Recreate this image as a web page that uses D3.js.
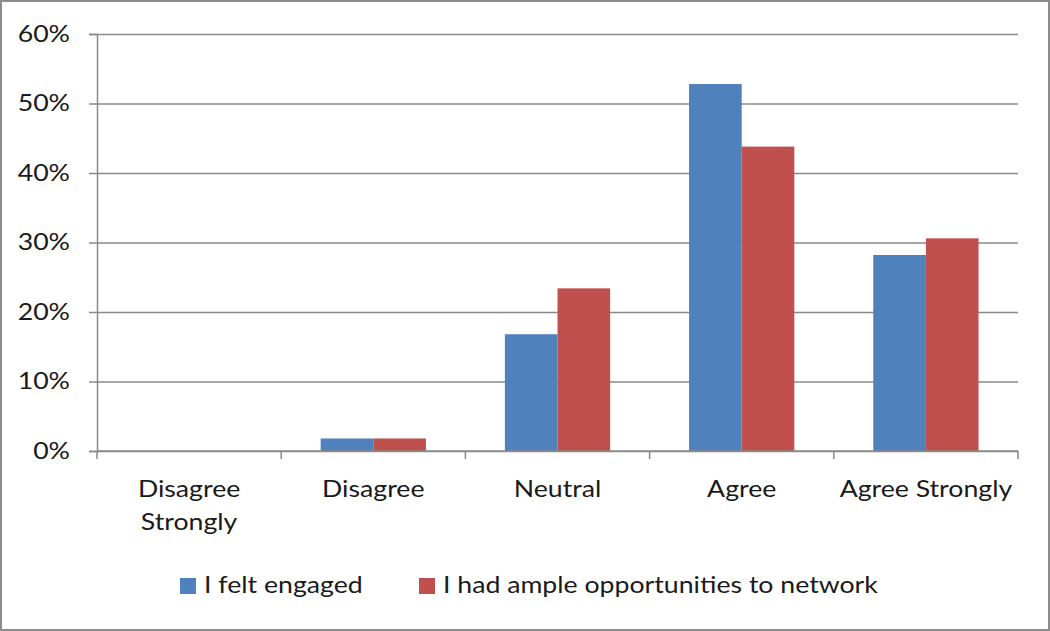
<!DOCTYPE html>
<html>
<head>
<meta charset="utf-8">
<script src="https://cdn.jsdelivr.net/npm/d3@7"></script>
<style>
  body { margin: 0; background: #fff; }
  text { font-family: Lato, "Open Sans", sans-serif; fill: #1a1a1a; }
</style>
</head>
<body>
<div id="chart"></div>
<script>
const width = 1050;
const height = 631;

// data
const categories = ["Disagree Strongly", "Disagree", "Neutral", "Agree", "Agree Strongly"];
const categoryLines = [["Disagree", "Strongly"], ["Disagree"], ["Neutral"], ["Agree"], ["Agree Strongly"]];
const seriesNames = ["I felt engaged", "I had ample opportunities to network"];
const engaged = [0, 0.018, 0.168, 0.528, 0.282];
const network = [0, 0.018, 0.234, 0.438, 0.306];
const yTicks = [0, 0.1, 0.2, 0.3, 0.4, 0.5, 0.6];
const colors = ["#4F81BD", "#C0504D"];

const plot = { left: 97, right: 1018, top: 34, bottom: 451 };
const stretch = 1.16; // the original text is a bit wider than Lato

const svg = d3.select("#chart")
    .append("svg")
    .attr("width", width)
    .attr("height", height);

// outer frame
svg.append("rect")
    .attr("x", 1).attr("y", 1)
    .attr("width", width - 2).attr("height", height - 2)
    .attr("fill", "#fff")
    .attr("stroke", "#8c8c8c")
    .attr("stroke-width", 2);

const x = d3.scaleBand()
    .domain(categories)
    .range([plot.left, plot.right]);

const gap = x.bandwidth() * 1.5 / 3.5;
const xs = d3.scaleBand()
    .domain(seriesNames)
    .range([gap / 2, x.bandwidth() - gap / 2]);

const y = d3.scaleLinear()
    .domain([0, 0.6])
    .range([plot.bottom, plot.top]);

// gridlines
svg.append("g")
    .attr("transform", `translate(${plot.left},0)`)
    .call(d3.axisLeft(y).tickValues(yTicks).tickSize(-(plot.right - plot.left)).tickFormat(""))
    .call(g => g.select(".domain").remove())
    .call(g => g.selectAll("line").attr("stroke", "#8a8a8a").attr("stroke-width", 1.3));

// bars
const rows = categories.map((c, i) => ({ cat: c, values: [engaged[i], network[i]] }));

svg.append("g")
    .selectAll("g")
    .data(rows)
    .join("g")
    .attr("transform", d => `translate(${x(d.cat)},0)`)
    .selectAll("rect")
    .data(d => d.values.map((v, j) => ({ key: seriesNames[j], v, j })))
    .join("rect")
    .attr("x", d => xs(d.key))
    .attr("width", xs.bandwidth())
    .attr("y", d => y(d.v))
    .attr("height", d => y(0) - y(d.v))
    .attr("fill", d => colors[d.j]);

// y axis
svg.append("g")
    .attr("transform", `translate(${plot.left},0)`)
    .call(d3.axisLeft(y).tickValues(yTicks).tickSize(8).tickPadding(15.3).tickFormat(d3.format(".0%")))
    .call(g => g.selectAll("line, .domain").attr("stroke", "#8a8a8a").attr("stroke-width", 1.5))
    .call(g => g.selectAll("text")
        .attr("font-size", 23)
        .attr("font-family", "Lato, sans-serif")
        .attr("fill", "#1a1a1a")
        .attr("transform", `scale(${stretch},1)`));

// x axis baseline with boundary ticks
const xAxis = svg.append("g");
xAxis.append("line")
    .attr("x1", plot.left).attr("x2", plot.right)
    .attr("y1", y(0)).attr("y2", y(0))
    .attr("stroke", "#8a8a8a").attr("stroke-width", 1.5);

const bounds = categories.map(c => x(c)).concat([plot.right]);
xAxis.selectAll(".btick")
    .data(bounds)
    .join("line")
    .attr("x1", d => d).attr("x2", d => d)
    .attr("y1", y(0)).attr("y2", y(0) + 8)
    .attr("stroke", "#8a8a8a").attr("stroke-width", 1.5);

xAxis.selectAll(".clabel")
    .data(categories)
    .join("text")
    .attr("text-anchor", "middle")
    .attr("font-size", 23)
    .attr("transform", d => `translate(${x(d) + x.bandwidth() / 2},497) scale(${stretch},1)`)
    .each(function (d, i) {
        d3.select(this).selectAll("tspan")
            .data(categoryLines[i])
            .join("tspan")
            .attr("x", 0)
            .attr("dy", (t, k) => k === 0 ? 0 : 33)
            .text(t => t);
    });

// legend
const legendX = [180, 419];
const legend = svg.append("g")
    .selectAll("g")
    .data(seriesNames)
    .join("g")
    .attr("transform", (d, i) => `translate(${legendX[i]},578)`);

legend.append("rect")
    .attr("width", 16).attr("height", 16)
    .attr("fill", (d, i) => colors[i]);

legend.append("text")
    .attr("transform", `translate(24,15) scale(${stretch},1)`)
    .attr("font-size", 23)
    .text(d => d);
</script>
</body>
</html>
